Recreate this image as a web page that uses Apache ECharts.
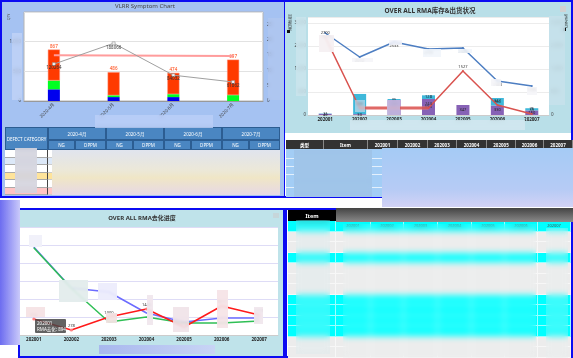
<!DOCTYPE html>
<html><head><meta charset="utf-8">
<script src="https://cdn.jsdelivr.net/npm/echarts@6/dist/echarts.min.js"></script>
<style>
html,body{margin:0;padding:0;width:573px;height:358px;overflow:hidden;background:#fff;font-family:'Noto Sans','Noto Sans CJK SC',sans-serif;}
#bg,#fg{position:absolute;left:0;top:0;width:573px;height:358px;}
#bg{z-index:0}
#chart{position:absolute;left:0;top:0;width:573px;height:358px;z-index:1;}
#fg{z-index:3;pointer-events:none}
.c{display:flex;align-items:center;justify-content:center;white-space:nowrap;overflow:hidden;}
</style></head><body>
<div id="bg"></div>
<div id="chart"></div>
<div id="fg"></div>
<script>
// ---------- data ----------
const vlrrTitle = 'VLRR Symptom Chart';
const vlrrMonths = ['2020-4月','2020-5月','2020-6月','2020-7月'];
const vlrrBlue  = [197, 66, 66, 0];
const vlrrGreen = [148, 30, 49, 99];
const vlrrRed   = [522, 390, 359, 598];
const vlrrTotal = [867, 486, 474, 697];
const vlrrDppm  = [120264, 188066, 84032, 61862];
const vlrrTarget = [149000, 148500, 147500, 146500];
const vlrrHeadFirst = 'DEFECT CATEGORY';
const vlrrSubHeads = ['NG','DPPM'];

const rmaTitle = 'OVER ALL RMA库存&出货状况';
const rmaMonths = ['202001','202002','202003','202004','202005','202006','202007'];
const rmaPurple = [40, 30, 520, 555, 347, 330, 160];
const rmaCyan   = [11, 700, 35, 128, 0, 260, 75];
const rmaStock  = [2845, 2012, 2533, 2290, 2325, 1180, 1006];
const rmaShip   = [2700, 243, 243, 243, 1527, 347, 35];
const rmaTableHeads = ['类型','Item'];
const rmaLeftName = '出货数量';
const rmaRightName = '库存数量';

const progTitle = 'OVER ALL RMA去化进度';
const progBlue  = [4889, 2611, 2389, 1222, 722, 944, 944];
const progGreen = [4850, 2600, 722, 1000, 667, 667, 778];
const progRed   = [894, 278, 1000, 1444, 444, 1611, 1111];
const progTipName = 'RMA去化';

const itemHead = 'Item';

// ---------- html helpers ----------
const bg = document.getElementById('bg');
const fg = document.getElementById('fg');
function box(parent,x,y,w,h,style,html){
  const d=document.createElement('div');
  d.style.cssText=`position:absolute;left:${x}px;top:${y}px;width:${w}px;height:${h}px;box-sizing:border-box;`+(style||'');
  if(html!=null){d.className='c';d.innerHTML=html;}
  parent.appendChild(d);return d;
}
const BLUE='#0b0bf2';
// panels
box(bg,0,0,286,198,`background:#a5c2f2;border:2px solid ${BLUE};`);
box(bg,285,0,288,198,`background:#fff;border:2px solid ${BLUE};border-left:none;`);
box(bg,285,2,286,131,'background:#b9dfe8;');
box(bg,18,208,267,150,`background:#bfe3ea;border:2px solid ${BLUE};`);
box(bg,285,208,288,150,`background:#fff;border:2px solid ${BLUE};`);

// titles
box(fg,45,1,200,10,'font-size:6px;color:#444;line-height:10px;',vlrrTitle);
box(fg,330,6,200,10,'font-size:6.5px;font-weight:bold;color:#333;line-height:10px;',rmaTitle);
box(fg,42,213,200,10,'font-size:6px;font-weight:bold;color:#333;line-height:10px;',progTitle);

// axis names
box(fg,2,12,12,10,'font-size:3.5px;color:#555;transform:rotate(-90deg);','QTY');
box(fg,286,14,6,18,'font-size:4px;color:#333;writing-mode:vertical-rl;line-height:5px;display:block;',rmaLeftName);
box(fg,287,30,3,3,'background:#111;');
box(fg,562,14,6,14,'font-size:4px;color:#333;writing-mode:vertical-rl;line-height:5px;display:block;',rmaRightName);
box(fg,563,28,3,3,'background:#111;');
// icons
box(bg,560,6,6,6,'background:#d2d2d2;');
box(bg,273,213,6,5,'background:#c6d6da;');

// VLRR table
const hs='background:#4a86c2;border:1px solid #2c5d92;color:#fff;font-size:4.5px;';
box(bg,5,127,43,23,hs,vlrrHeadFirst);
vlrrMonths.forEach((m,i)=>{
  const x0=48+i*58;
  box(bg,x0,127,58,13,hs,m);
  box(bg,x0,140,27,10,hs,vlrrSubHeads[0]);
  box(bg,x0+27,140,31,10,hs,vlrrSubHeads[1]);
});
const vRowCol=['#ffffff','#dce8f8','#ffffff','#ffe49a','#ffffff','#ffc4c4'];
vRowCol.forEach((c,r)=>{
  const y=150+r*7.5;
  box(bg,5,y,43,7.5,`background:${c};border-bottom:1px solid #aaa;border-right:1px solid #444;`);
  box(bg,48,y,232,7.5,`background:${c};border-bottom:1px solid #ccc;`);
});

// RMA table
const e=[286,324,368,398,428,457,487,516,544,573];
const heads=rmaTableHeads.concat(rmaMonths);
heads.forEach((t,i)=>box(bg,e[i],140,e[i+1]-e[i],9,'background:#333;color:#fff;font-size:4.5px;font-weight:bold;border-right:1px solid #888;',t));
box(bg,286,149,285,48,'background:#a3cdf5;');
[158,166,174,187].forEach(y=>box(bg,286,y,285,1,'background:rgba(255,255,255,0.7);'));

// Item table (bottom right)
box(bg,288,210,48,11,'background:#000;color:#fff;font-size:5.5px;font-weight:bold;',itemHead);
box(bg,336,210,235,11,'background:#333;');
const rowKinds=['c','g','g','c','g','g','g','c','c','c','c','g','g'];
const ce=[288,336,371,404,438,472,505,538,571];
rowKinds.forEach((k,r)=>{
  const y=221+r*10.5;
  const col=k==='c'?'#00ffff':'#ececec';
  for(let i=0;i<ce.length-1;i++){
    const txt=(r===0&&i>0)?rmaMonths[i-1]:'';
    box(bg,ce[i],y,ce[i+1]-ce[i],10.5,`background:${col};border-right:1px solid rgba(255,255,255,0.6);border-bottom:1px solid rgba(255,255,255,0.6);color:#4a4a4a;font-size:4px;`,txt);
  }
});

// tooltip-like box in panel 3
box(fg,35,319,31,14,'background:rgba(70,70,70,0.85);color:#fff;font-size:4.5px;line-height:6px;flex-direction:column;align-items:flex-start;padding-left:2px;border-radius:1px;',`<span>${rmaMonths[0]}</span><span>${progTipName}: ${progRed[0]}</span>`);

// ---------- chart ----------
const F="'Noto Sans','Noto Sans CJK SC',sans-serif";
const chart=echarts.init(document.getElementById('chart'),null,{renderer:'canvas'});
const small={fontSize:4.5,color:'#444',fontFamily:F};
const nz=p=>(p.value>0?p.value:'');
chart.setOption({
  animation:false,
  textStyle:{fontFamily:F},
  grid:[
    {left:24,top:12,width:239,height:89,show:true,backgroundColor:'#fff',borderColor:'#b4b4b4',borderWidth:1},
    {left:308,top:17,width:241,height:98,show:true,backgroundColor:'#fff',borderWidth:0},
    {left:15,top:227,width:263,height:108,show:true,backgroundColor:'#fff',borderWidth:0}
  ],
  xAxis:[
    {gridIndex:0,type:'category',data:vlrrMonths,axisLine:{lineStyle:{color:'#999'}},axisTick:{show:false},axisLabel:Object.assign({rotate:45,margin:3},small)},
    {gridIndex:1,type:'category',data:rmaMonths,axisLine:{lineStyle:{color:'#ccc'}},axisTick:{show:false},axisLabel:Object.assign({},small,{fontWeight:'bold',color:'#222',margin:2})},
    {gridIndex:2,type:'category',data:rmaMonths,axisLine:{lineStyle:{color:'#ccc'}},axisTick:{show:false},axisLabel:Object.assign({},small,{fontWeight:'bold',color:'#222',margin:2})}
  ],
  yAxis:[
    {gridIndex:0,type:'value',min:0,max:1500,interval:500,axisLine:{show:false},axisTick:{show:false},axisLabel:Object.assign({margin:3,showMaxLabel:false},small),splitLine:{lineStyle:{color:'#e2e2e2'}}},
    {gridIndex:0,type:'value',position:'right',min:0,max:290000,interval:50000,axisLine:{show:false},axisTick:{show:false},axisLabel:Object.assign({margin:4,showMaxLabel:false,formatter:v=>String(v/10000)},small),splitLine:{show:false}},
    {gridIndex:1,type:'value',min:0,max:3400,interval:800,axisLine:{show:false},axisTick:{show:false},axisLabel:Object.assign({margin:2,showMaxLabel:false},small),splitLine:{lineStyle:{color:'#ececec'}}},
    {gridIndex:1,type:'value',position:'right',min:0,max:3400,interval:800,axisLine:{show:false},axisTick:{show:false},axisLabel:Object.assign({margin:2,showMaxLabel:false},small),splitLine:{show:false}},
    {gridIndex:2,type:'value',min:0,max:6000,interval:1000,axisLine:{show:false},axisTick:{show:false},axisLabel:{show:false},splitLine:{lineStyle:{color:'#dedcf6',width:1}}}
  ],
  series:[
    {type:'bar',xAxisIndex:0,yAxisIndex:0,stack:'v',data:vlrrBlue,barWidth:12,itemStyle:{color:'#0000ee'}},
    {type:'bar',xAxisIndex:0,yAxisIndex:0,stack:'v',data:vlrrGreen,barWidth:12,itemStyle:{color:'#00ff22'}},
    {type:'bar',xAxisIndex:0,yAxisIndex:0,stack:'v',data:vlrrRed,barWidth:12,itemStyle:{color:'#ff3a00',borderColor:'#ff8a70',borderWidth:0.5},
      label:{show:true,position:'top',distance:1,fontSize:4.5,color:'#ff3a00',formatter:p=>vlrrTotal[p.dataIndex]}},
    {type:'line',xAxisIndex:0,yAxisIndex:1,data:vlrrTarget,symbol:'none',lineStyle:{color:'#ff9c9c',width:2}},
    {type:'line',xAxisIndex:0,yAxisIndex:1,data:vlrrDppm,symbol:'rect',symbolSize:3,itemStyle:{color:'#f2f2f2',borderColor:'#888',borderWidth:0.5},lineStyle:{color:'#a0a0a0',width:1},
      label:{show:true,position:'bottom',distance:0,fontSize:4.5,color:'#333'}},

    {type:'bar',xAxisIndex:1,yAxisIndex:2,stack:'r',data:rmaPurple,barWidth:13,itemStyle:{color:'#8762b6'},label:{show:true,position:'inside',fontSize:4,color:'#222',formatter:nz}},
    {type:'bar',xAxisIndex:1,yAxisIndex:2,stack:'r',data:rmaCyan,barWidth:13,itemStyle:{color:'#3fb8da'},label:{show:true,position:'inside',fontSize:4,color:'#123',formatter:nz}},
    {type:'line',xAxisIndex:1,yAxisIndex:2,data:rmaStock,symbol:'circle',symbolSize:2,itemStyle:{color:'#4d7ec2'},lineStyle:{color:'#4d7ec2',width:1.5},
      label:{show:true,position:'bottom',distance:1,fontSize:4,color:'#333'}},
    {type:'line',xAxisIndex:1,yAxisIndex:2,data:rmaShip.map((v,i)=>(i>=1&&i<=3)?v:null),symbol:'none',lineStyle:{color:'rgba(230,110,110,0.55)',width:4}},
    {type:'line',xAxisIndex:1,yAxisIndex:2,data:rmaShip,symbol:'circle',symbolSize:2,itemStyle:{color:'#d9534f'},lineStyle:{color:'#d9534f',width:1.5},
      label:{show:true,position:'top',distance:1,fontSize:4,color:'#333'}},

    {type:'line',xAxisIndex:2,yAxisIndex:4,data:progBlue,symbol:'none',lineStyle:{color:'#6c6cff',width:1.5},
      label:{show:true,position:'top',distance:1,fontSize:4,color:'#333'}},
    {type:'line',xAxisIndex:2,yAxisIndex:4,data:progGreen,symbol:'none',lineStyle:{color:'#2fbf55',width:1.5}},
    {type:'line',xAxisIndex:2,yAxisIndex:4,data:progRed,symbol:'circle',symbolSize:3,itemStyle:{color:'#ff8080'},lineStyle:{color:'#ff1a1a',width:1.5},
      label:{show:true,position:'top',distance:1,fontSize:4,color:'#333'}}
  ]
});

// ---------- privacy blur overlays ----------
const blurs=[
  // panel 1
  [12,33,10,67,'rgba(200,215,248,0.65)',2],
  [268,18,16,82,'rgba(178,200,240,0.7)',2],
  [95,115,118,13,'rgba(190,208,248,0.75)',2],
  [15,148,22,45,'rgba(212,212,222,0.9)',2],
  [52,150,228,45,'linear-gradient(#e0e4ee,#ece8d8 45%,#f0e6c6 62%,#e6d8e6)',2],
  // panel 2
  [296,17,10,79,'rgba(205,230,238,0.75)',2],
  [549,16,16,89,'rgba(200,225,235,0.8)',2],
  [319,35,15,17,'rgba(245,240,242,0.92)',1],
  [352,58,21,4,'rgba(245,245,248,0.85)',1],
  [389,40,13,5,'rgba(245,245,250,0.85)',1],
  [423,49,18,8,'rgba(240,245,250,0.85)',1],
  [458,49,14,4,'rgba(240,245,250,0.85)',1],
  [491,79,10,7,'rgba(245,245,248,0.85)',1],
  [527,87,10,8,'rgba(245,245,248,0.85)',1],
  [355,100,10,12,'rgba(215,225,240,0.6)',1],
  [387,100,13,15,'rgba(200,190,226,0.85)',1],
  [350,120,175,10,'rgba(210,232,240,0.85)',2],
  [294,150,78,47,'rgba(158,195,232,0.9)',3],
  [382,148,191,59,'linear-gradient(#a5cbf5,#b6cbf5 70%,#d2d2f6)',3],
  // panel 3
  [0,200,20,145,'linear-gradient(to right,#6c6cf0,#cacafa)',2],
  [29,235,13,12,'rgba(240,240,250,0.92)',1],
  [59,280,29,22,'rgba(226,236,236,0.92)',1],
  [98,283,19,17,'rgba(235,235,252,0.92)',1],
  [106,313,11,10,'rgba(242,226,226,0.92)',1],
  [147,295,6,30,'rgba(240,230,236,0.9)',1],
  [173,307,16,25,'rgba(240,226,232,0.9)',1],
  [217,290,11,38,'rgba(245,226,230,0.9)',1],
  [254,307,9,17,'rgba(240,230,236,0.9)',1],
  [26,307,19,10,'rgba(245,226,228,0.92)',1],
  [99,345,116,9,'linear-gradient(to right,#a8b8ee,#c8d4f5)',2],
  // panel 4
  [336,208,237,14,'linear-gradient(#444,#8a8a8a)',2],
  [296,220,34,134,'rgba(205,235,238,0.2)',3],
  [343,224,193,134,'rgba(235,245,245,0.08)',3],
  [546,228,22,130,'rgba(230,240,242,0.2)',3]
];
blurs.forEach(b=>{
  box(fg,b[0],b[1],b[2],b[3],`background:${b[4]};backdrop-filter:blur(${b[5]}px);-webkit-backdrop-filter:blur(${b[5]}px);filter:blur(0.6px);`);
});
</script>
</body></html>
